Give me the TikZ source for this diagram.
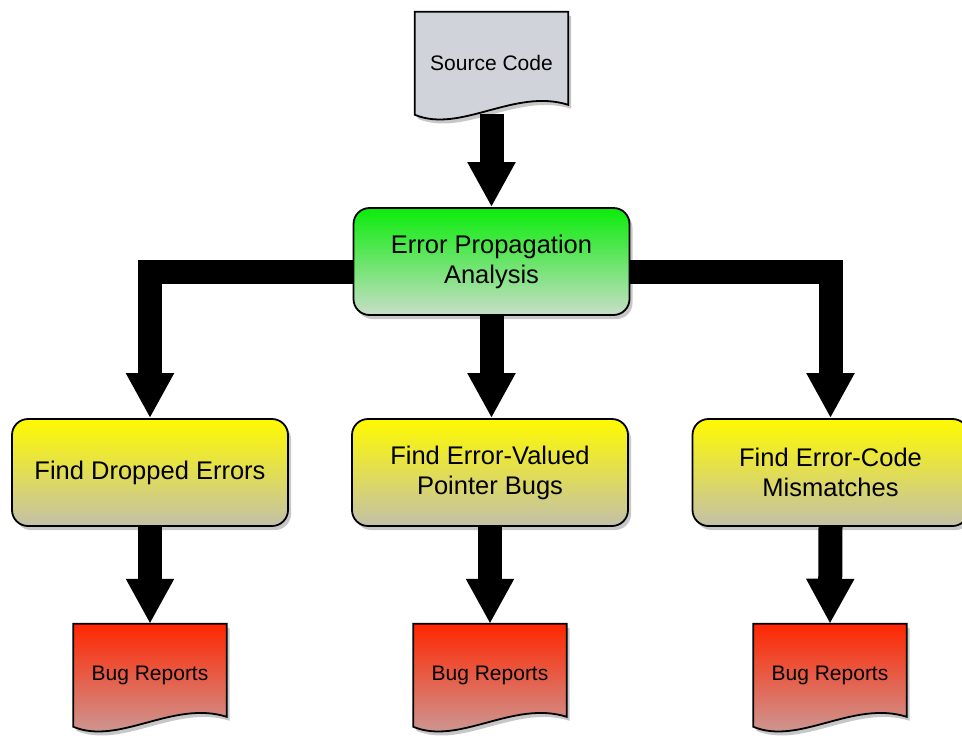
\documentclass[tikz,border=0pt]{standalone}
\usepackage{fontspec}
\setmainfont{Liberation Sans}
\usetikzlibrary{arrows.meta,shadows,calc}
\pgfdeclarelayer{bg}
\pgfdeclarelayer{mid}
\pgfsetlayers{bg,mid,main}
\definecolor{srcgray}{RGB}{208,211,217}
\definecolor{greentop}{RGB}{10,236,10}
\definecolor{greenbot}{RGB}{200,222,200}
\definecolor{yeltop}{RGB}{255,250,0}
\definecolor{yelbot}{RGB}{195,192,170}
\definecolor{redtop}{RGB}{255,38,0}
\definecolor{redbot}{RGB}{198,165,165}
\tikzset{
  softshadow/.style={drop shadow={shadow xshift=3pt, shadow yshift=-4pt, opacity=0.22, fill=black}},
  procbox/.style={draw=black, line width=1.8pt, rounded corners=16pt,
    minimum width=276pt, minimum height=107pt, inner sep=0pt, align=center,
    font=\fontsize{25.5}{30}\selectfont, softshadow},
  greenbox/.style={procbox, top color=greentop, bottom color=greenbot},
  yellowbox/.style={procbox, top color=yeltop, bottom color=yelbot},
  doctext/.style={minimum width=153pt, minimum height=102pt, inner sep=0pt,
    font=\fontsize{21}{25}\selectfont},
  docshape/.style={draw=black, line width=1.8pt, softshadow},
  bigarrow/.style={line width=24pt, line join=miter, draw=black,
    -{Triangle[width=45pt,length=45pt]}}
}
\newcommand\docpath[1]{(#1.north west) -- (#1.north east) -- ($(#1.north east)+(0,93)$)
  .. controls ($(#1.north west)+(99.5,76)$) and ($(#1.north west)+(46,122)$) ..
  ($(#1.north west)+(0,103)$) -- cycle}
\begin{document}
\begin{tikzpicture}[x=1pt,y=-1pt]
\useasboundingbox (0,0) rectangle (962,737);
% nodes
\node[doctext] (src) at (491.5,63) {Source Code};
\node[greenbox] (ep) at (491.5,261.5) {Error Propagation\\Analysis};
\node[yellowbox] (fde) at (150,472.5) {Find Dropped Errors};
\node[yellowbox] (fevp) at (490,472.5) {Find Error-Valued\\Pointer Bugs};
\node[yellowbox] (fecm) at (830.5,472.5) {Find Error-Code\\Mismatches};
\node[doctext] (br1) at (150,675) {Bug Reports};
\node[doctext] (br2) at (490,675) {Bug Reports};
\node[doctext] (br3) at (830,675) {Bug Reports};
% document shapes
\begin{pgfonlayer}{mid}
\path[docshape, fill=srcgray] \docpath{src};
\path[docshape, top color=redtop, bottom color=redbot] \docpath{br1};
\path[docshape, top color=redtop, bottom color=redbot] \docpath{br2};
\path[docshape, top color=redtop, bottom color=redbot] \docpath{br3};
\end{pgfonlayer}
% connectors
\begin{pgfonlayer}{bg}
\draw[bigarrow] (src.south) -- (ep.north);
\draw[bigarrow] ($(ep.west)+(0,10)$) -| (fde.north);
\draw[bigarrow] (ep.south) -- (ep.south |- fevp.north);
\draw[bigarrow] ($(ep.east)+(0,10)$) -| (fecm.north);
\draw[bigarrow] (fde.south) -- (br1.north);
\draw[bigarrow] (fevp.south) -- (br2.north);
\draw[bigarrow] (fecm.south) -- (br3.north);
\end{pgfonlayer}
\end{tikzpicture}
\end{document}
